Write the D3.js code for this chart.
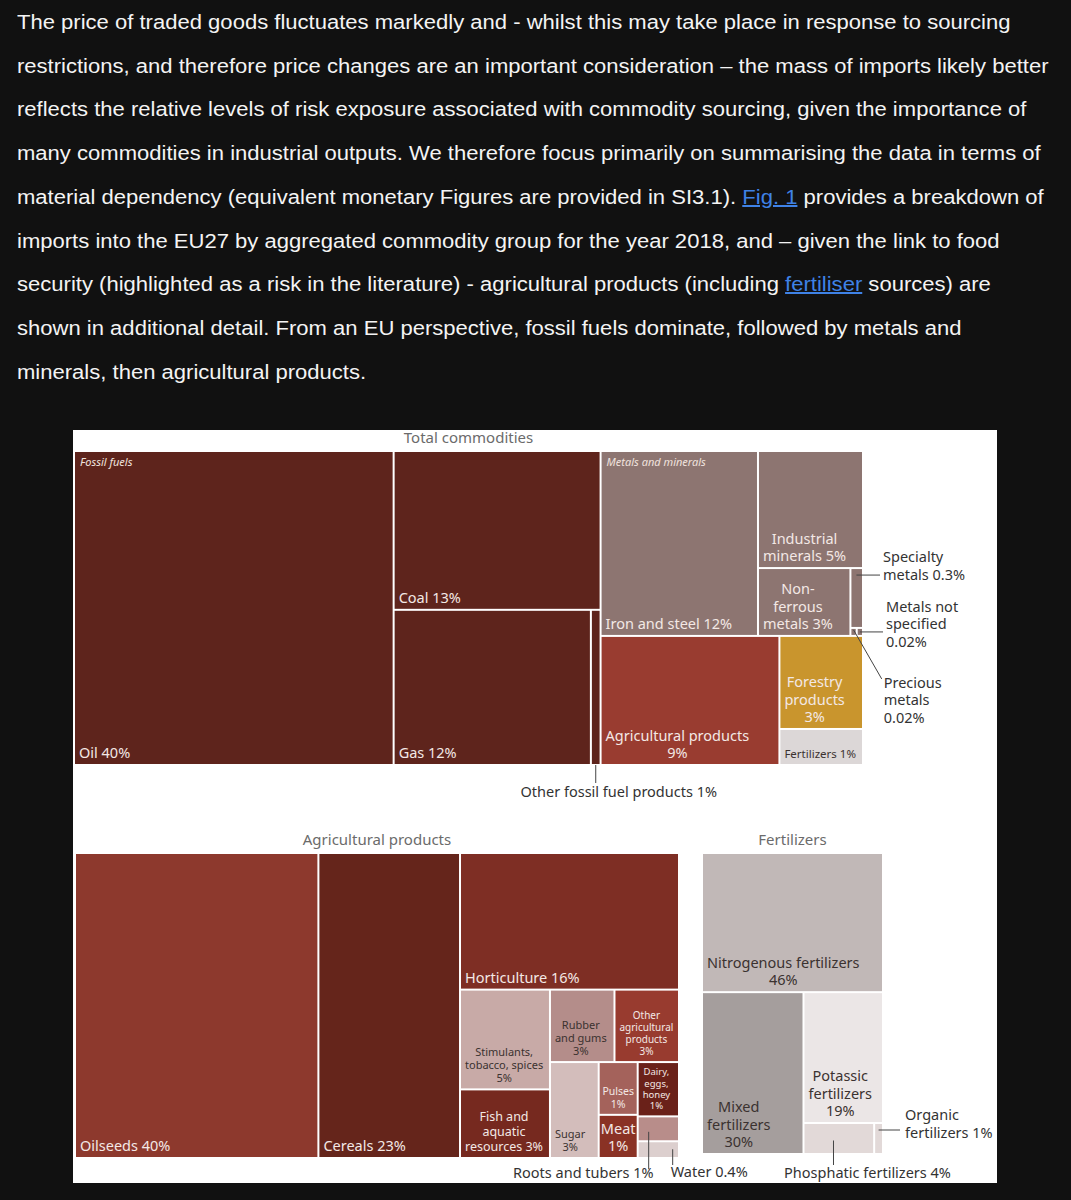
<!DOCTYPE html>
<html>
<head>
<meta charset="utf-8">
<script src="https://cdn.jsdelivr.net/npm/d3@7"></script>
<style>
body { margin: 0; background: #111; width: 1071px; height: 1200px; overflow: hidden; }
#text { position: absolute; left: 17px; top: 1px; font: 20px "Liberation Sans", Arial, sans-serif; line-height: 43.7px; color: #f4f4f4; white-space: nowrap; transform: scaleX(1.102); transform-origin: 0 0; }
#text .link { color: #3f82e6; text-decoration: underline; }
svg { position: absolute; left: 0; top: 0; font-family: "Noto Sans", sans-serif; }
</style>
</head>
<body>
<svg id="fig" width="1071" height="1200"></svg>
<div id="text"></div>
<script>
// paragraph above the figure, one entry per line: [text, isLink]
const paragraph = [
	[["The price of traded goods fluctuates markedly and - whilst this may take place in response to sourcing"]],
	[["restrictions, and therefore price changes are an important consideration \u2013 the mass of imports likely better"]],
	[["reflects the relative levels of risk exposure associated with commodity sourcing, given the importance of"]],
	[["many commodities in industrial outputs. We therefore focus primarily on summarising the data in terms of"]],
	[["material dependency (equivalent monetary Figures are provided in SI3.1). "], ["Fig. 1", true], [" provides a breakdown of"]],
	[["imports into the EU27 by aggregated commodity group for the year 2018, and \u2013 given the link to food"]],
	[["security (highlighted as a risk in the literature) - agricultural products (including "], ["fertiliser", true], [" sources) are"]],
	[["shown in additional detail. From an EU perspective, fossil fuels dominate, followed by metals and"]],
	[["minerals, then agricultural products."]]
]

// Total commodities, share of EU27 import mass 2018 (%)
const totalNames = ["Oil", "Coal", "Gas", "Other fossil fuel products", "Iron and steel", "Industrial minerals", "Non-ferrous metals", "Specialty metals", "Precious metals", "Metals not specified", "Agricultural products", "Forestry products", "Fertilizers"]
const totalValues = [40, 13.1, 12.2, 0.6, 11.6, 4.9, 2.5, 0.3, 0.02, 0.02, 9.2, 3.1, 1.2]
const totalLabels = ["Oil 40%", "Coal 13%", "Gas 12%", "", "Iron and steel 12%", "Industrial\nminerals 5%", "Non-\nferrous\nmetals 3%", "", "", "", "Agricultural products\n9%", "Forestry\nproducts\n3%", "Fertilizers 1%"]
// h = side by side, v = stacked; text after the letter is a group name
const totalTree = ["h", ["h Fossil fuels", 0, ["v", 1, ["h", 2, 3]]], ["v", ["h Metals and minerals", 4, ["v", 5, ["h", 6, ["v", 7, ["h", 8, 9]]]]], ["h", 10, ["v", 11, 12]]]]

// Agricultural products (%)
const agriNames = ["Oilseeds", "Cereals", "Horticulture", "Stimulants, tobacco, spices", "Fish and aquatic resources", "Rubber and gums", "Other agricultural products", "Sugar", "Pulses", "Meat", "Dairy, eggs, honey", "Roots and tubers", "Water"]
const agriValues = [39.7, 23.1, 16, 4.8, 3.3, 2.5, 2.5, 2.5, 1.1, 0.9, 1.2, 0.55, 0.37]
const agriLabels = ["Oilseeds 40%", "Cereals 23%", "Horticulture 16%", "Stimulants,\ntobacco, spices\n5%", "Fish and\naquatic\nresources 3%", "Rubber\nand gums\n3%", "Other\nagricultural\nproducts\n3%", "Sugar\n3%", "Pulses\n1%", "Meat\n1%", "Dairy,\neggs,\nhoney\n1%", "", ""]
const agriTree = ["h", 0, 1, ["v", 2, ["h", ["v", 3, 4], ["v", ["h", 5, 6], ["h", 7, ["v", 8, 9], ["v", 10, 11, 12]]]]]]

// Fertilizers (%)
const fertNames = ["Nitrogenous fertilizers", "Mixed fertilizers", "Potassic fertilizers", "Phosphatic fertilizers", "Organic fertilizers"]
const fertValues = [46, 30, 19, 4, 0.5]
const fertLabels = ["Nitrogenous fertilizers\n46%", "Mixed\nfertilizers\n30%", "Potassic\nfertilizers\n19%", "", ""]
const fertTree = ["v", 0, ["h", 1, ["v", 2, ["h", 3, 4]]]]

// colours
const totalColors = ["#5e241c", "#5e241c", "#5e241c", "#5e241c", "#8d7571", "#8d7571", "#8d7571", "#8d7571", "#8d7571", "#8d7571", "#993c30", "#c9952d", "#dcd7d7"]
const agriColors = ["#8d392d", "#65251b", "#7e2e24", "#c8aaa7", "#76291f", "#b48d8a", "#983b2f", "#d3bdbb", "#a4625b", "#8a3225", "#6a2119", "#b88d8a", "#dccfce"]
const fertColors = ["#c1b8b7", "#a59e9d", "#ebe6e6", "#e2d9d8", "#e2d9d8"]

const smallSizes = {"Stimulants, tobacco, spices": 11, "Rubber and gums": 11, "Other agricultural products": 10, "Sugar": 11, "Pulses": 10.5, "Dairy, eggs, honey": 9.5, "Fish and aquatic resources": 12.5, "Fertilizers": 11.5}

let svg = d3.select("#fig")

svg.append("rect")
.attr("x", 73).attr("y", 430)
.attr("width", 924).attr("height", 753)
.attr("fill", "#fff")

function build(t, names, values, labels, colors) {
	if (typeof t == "number")
		return {name: names[t], value: values[t], label: labels[t], color: colors[t]}
	let head = t[0].split(" ")
	return {dir: head[0], group: head.slice(1).join(" "), children: t.slice(1).map(c => build(c, names, values, labels, colors))}
}

function tile(node, x0, y0, x1, y1) {
	(node.data.dir == "v" ? d3.treemapSlice : d3.treemapDice)(node, x0, y0, x1, y1)
}

function drawTree(tree, names, values, labels, colors, box, title) {
	let root = d3.hierarchy(build(tree, names, values, labels, colors))
	.sum(d => d.value || 0)

	d3.treemap()
	.tile(tile)
	.size([box[2] - box[0], box[3] - box[1]])
	.paddingInner(2)(root)

	let g = svg.append("g")
	.attr("transform", "translate(" + box[0] + "," + box[1] + ")")

	g.append("text")
	.attr("x", (box[2] - box[0]) / 2)
	.attr("y", -9)
	.attr("text-anchor", "middle")
	.attr("fill", "#6b6b6b")
	.style("font-size", "15px")
	.text(title)

	let leaves = root.leaves()

	g.selectAll(".cell")
	.data(leaves)
	.join("rect")
	.classed("cell", true)
	.attr("x", d => d.x0)
	.attr("y", d => d.y0)
	.attr("width", d => Math.max(0, d.x1 - d.x0))
	.attr("height", d => Math.max(0, d.y1 - d.y0))
	.attr("fill", d => d.data.color)

	g.selectAll(".group")
	.data(root.descendants().filter(d => d.data.group))
	.join("text")
	.classed("group", true)
	.attr("x", d => d.x0 + 5)
	.attr("y", d => d.y0 + 14)
	.attr("fill", "#f0e2de")
	.style("font-size", "11px")
	.style("font-style", "italic")
	.text(d => d.data.group)

	g.selectAll(".lab")
	.data(leaves.filter(d => d.data.label))
	.join("text")
	.classed("lab", true)
	.attr("fill", d => d3.hsl(d.data.color).l > 0.6 ? "#3b3230" : "#f3e8e5")
	.style("font-size", d => (smallSizes[d.data.name] || 14.5) + "px")
	.each(function(d) {
		let fs = smallSizes[d.data.name] || 14.5
		let lines = d.data.label.split("\n")
		let spans = d3.select(this).selectAll("tspan")
		.data(lines)
		.join("tspan")
		.text(l => l)
		let w = d3.max(spans.nodes(), n => n.getComputedTextLength())
		let x = w + 8 > d.x1 - d.x0 ? (d.x0 + d.x1) / 2 : d.x0 + 4 + w / 2
		spans
		.attr("x", x)
		.attr("y", (l, i) => d.y1 - 6 - (lines.length - 1 - i) * fs * 1.2)
		.attr("text-anchor", "middle")
	})

	return {g: g, cells: new Map(leaves.map(d => [d.data.name, d]))}
}

function callout(t, name, fn) {
	let d = t.cells.get(name)
	let c = fn(d, (d.x0 + d.x1) / 2, (d.y0 + d.y1) / 2)
	t.g.append("path")
	.attr("d", d3.line()(c.line))
	.attr("stroke", "#444")
	.attr("fill", "none")
	t.g.append("text")
	.attr("fill", "#333")
	.attr("text-anchor", c.anchor || "start")
	.style("font-size", "14.5px")
	.selectAll("tspan")
	.data(c.lines)
	.join("tspan")
	.attr("x", c.x)
	.attr("y", (l, i) => c.y + i * 17.5)
	.text(l => l)
}

let totalMap = drawTree(totalTree, totalNames, totalValues, totalLabels, totalColors, [75, 452, 862, 764], "Total commodities")
let agriMap = drawTree(agriTree, agriNames, agriValues, agriLabels, agriColors, [76, 854, 678, 1157], "Agricultural products")
let fertMap = drawTree(fertTree, fertNames, fertValues, fertLabels, fertColors, [703, 854, 882, 1153], "Fertilizers")

callout(totalMap, "Other fossil fuel products", (d, cx, cy) => ({line: [[cx, d.y1 + 1], [cx, d.y1 + 19]], x: cx + 23, y: d.y1 + 33, anchor: "middle", lines: ["Other fossil fuel products 1%"]}))
callout(totalMap, "Specialty metals", (d, cx, cy) => ({line: [[d.x0 + 5, d.y0 + 6], [d.x1 + 18, d.y0 + 6]], x: d.x1 + 21, y: d.y0 - 7, lines: ["Specialty", "metals 0.3%"]}))
callout(totalMap, "Metals not specified", (d, cx, cy) => ({line: [[cx, cy], [d.x1 + 21, cy]], x: d.x1 + 24, y: cy - 20, lines: ["Metals not", "specified", "0.02%"]}))
callout(totalMap, "Precious metals", (d, cx, cy) => ({line: [[cx, cy - 2], [d.x1 + 26, d.y0 + 50]], x: d.x1 + 28, y: d.y0 + 59, lines: ["Precious", "metals", "0.02%"]}))
callout(agriMap, "Roots and tubers", (d, cx, cy) => ({line: [[d.x0 + 10, cy + 3], [d.x0 + 10, d.y1 + 29]], x: d.x0 + 15, y: d.y1 + 38, anchor: "end", lines: ["Roots and tubers 1%"]}))
callout(agriMap, "Water", (d, cx, cy) => ({line: [[d.x0 + 34, d.y0 + 7], [d.x0 + 34, d.y1 + 8]], x: d.x0 + 32, y: d.y1 + 20, lines: ["Water 0.4%"]}))
callout(fertMap, "Phosphatic fertilizers", (d, cx, cy) => ({line: [[d.x0 + 29, cy + 2], [d.x0 + 29, d.y1 + 12]], x: d.x0 + 63, y: d.y1 + 25, anchor: "middle", lines: ["Phosphatic fertilizers 4%"]}))
callout(fertMap, "Organic fertilizers", (d, cx, cy) => ({line: [[cx, d.y0 + 6], [d.x1 + 18, d.y0 + 6]], x: d.x1 + 23, y: d.y0 - 4, lines: ["Organic", "fertilizers 1%"]}))

d3.select("#text")
.selectAll("div")
.data(paragraph)
.join("div")
.each(function(line) {
	d3.select(this)
	.selectAll("span")
	.data(line)
	.join("span")
	.classed("link", s => s[1])
	.text(s => s[0])
})
</script>
</body>
</html>
